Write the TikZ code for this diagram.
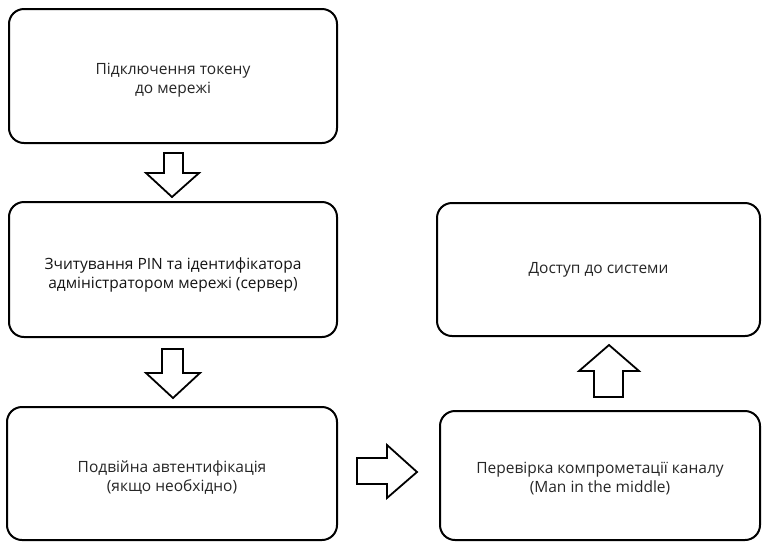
\documentclass[tikz,border=0pt]{standalone}
\usepackage{fontspec}
\setmainfont{Open Sans}
\begin{document}
\begin{tikzpicture}[x=1pt,y=-1pt,
  box/.style={draw=black, line width=2pt, rounded corners=15pt, fill=white, inner sep=0pt},
  boxtext/.style={align=center, font=\fontsize{15.5}{19}\selectfont, text=black!85, inner sep=0pt},
  blockarrow/.style={draw=black, line width=1.8pt, fill=white, line join=miter}]
\useasboundingbox (0,0) rectangle (762,542);
\node[box, minimum width=328pt, minimum height=134pt] (b1) at (173,76) {};
\node[box, minimum width=328pt, minimum height=135pt] (b2) at (173,269.5) {};
\node[box, minimum width=330pt, minimum height=133pt] (b3) at (172,473.5) {};
\node[box, minimum width=320pt, minimum height=129pt] (b4) at (600,475.5) {};
\node[box, minimum width=323pt, minimum height=133pt] (b5) at (598.5,269.5) {};
\node[boxtext] (t1) at ([yshift=-4pt]b1.center) {Підключення токену\\до мережі};
\node[boxtext, text=black!92] (t2) at ([yshift=-5pt]b2.center) {Зчитування PIN та ідентифікатора\\адміністратором мережі (сервер)};
\node[boxtext] (t3) at ([yshift=-4pt]b3.center) {Подвійна автентифікація\\(якщо необхідно)};
\node[boxtext] (t4) at ([yshift=-3pt]b4.center) {Перевірка компрометації каналу\\(Man in the middle)};
\node[boxtext] (t5) at (b5.center) {Доступ до системи};
% block arrows
\draw[blockarrow] (164,153) -- (183,153) -- (183,173) -- (199,173) -- (172,197) -- (146,173) -- (164,173) -- cycle;
\draw[blockarrow] (162,349) -- (183,349) -- (183,373) -- (200,373) -- (173,398) -- (146,373) -- (162,373) -- cycle;
\draw[blockarrow] (357,458) -- (387,458) -- (387,445) -- (417,472) -- (387,498) -- (387,484) -- (357,484) -- cycle;
\draw[blockarrow] (594,397) -- (594,371) -- (579,371) -- (609,345) -- (639,371) -- (623,371) -- (623,397) -- cycle;
\end{tikzpicture}
\end{document}
